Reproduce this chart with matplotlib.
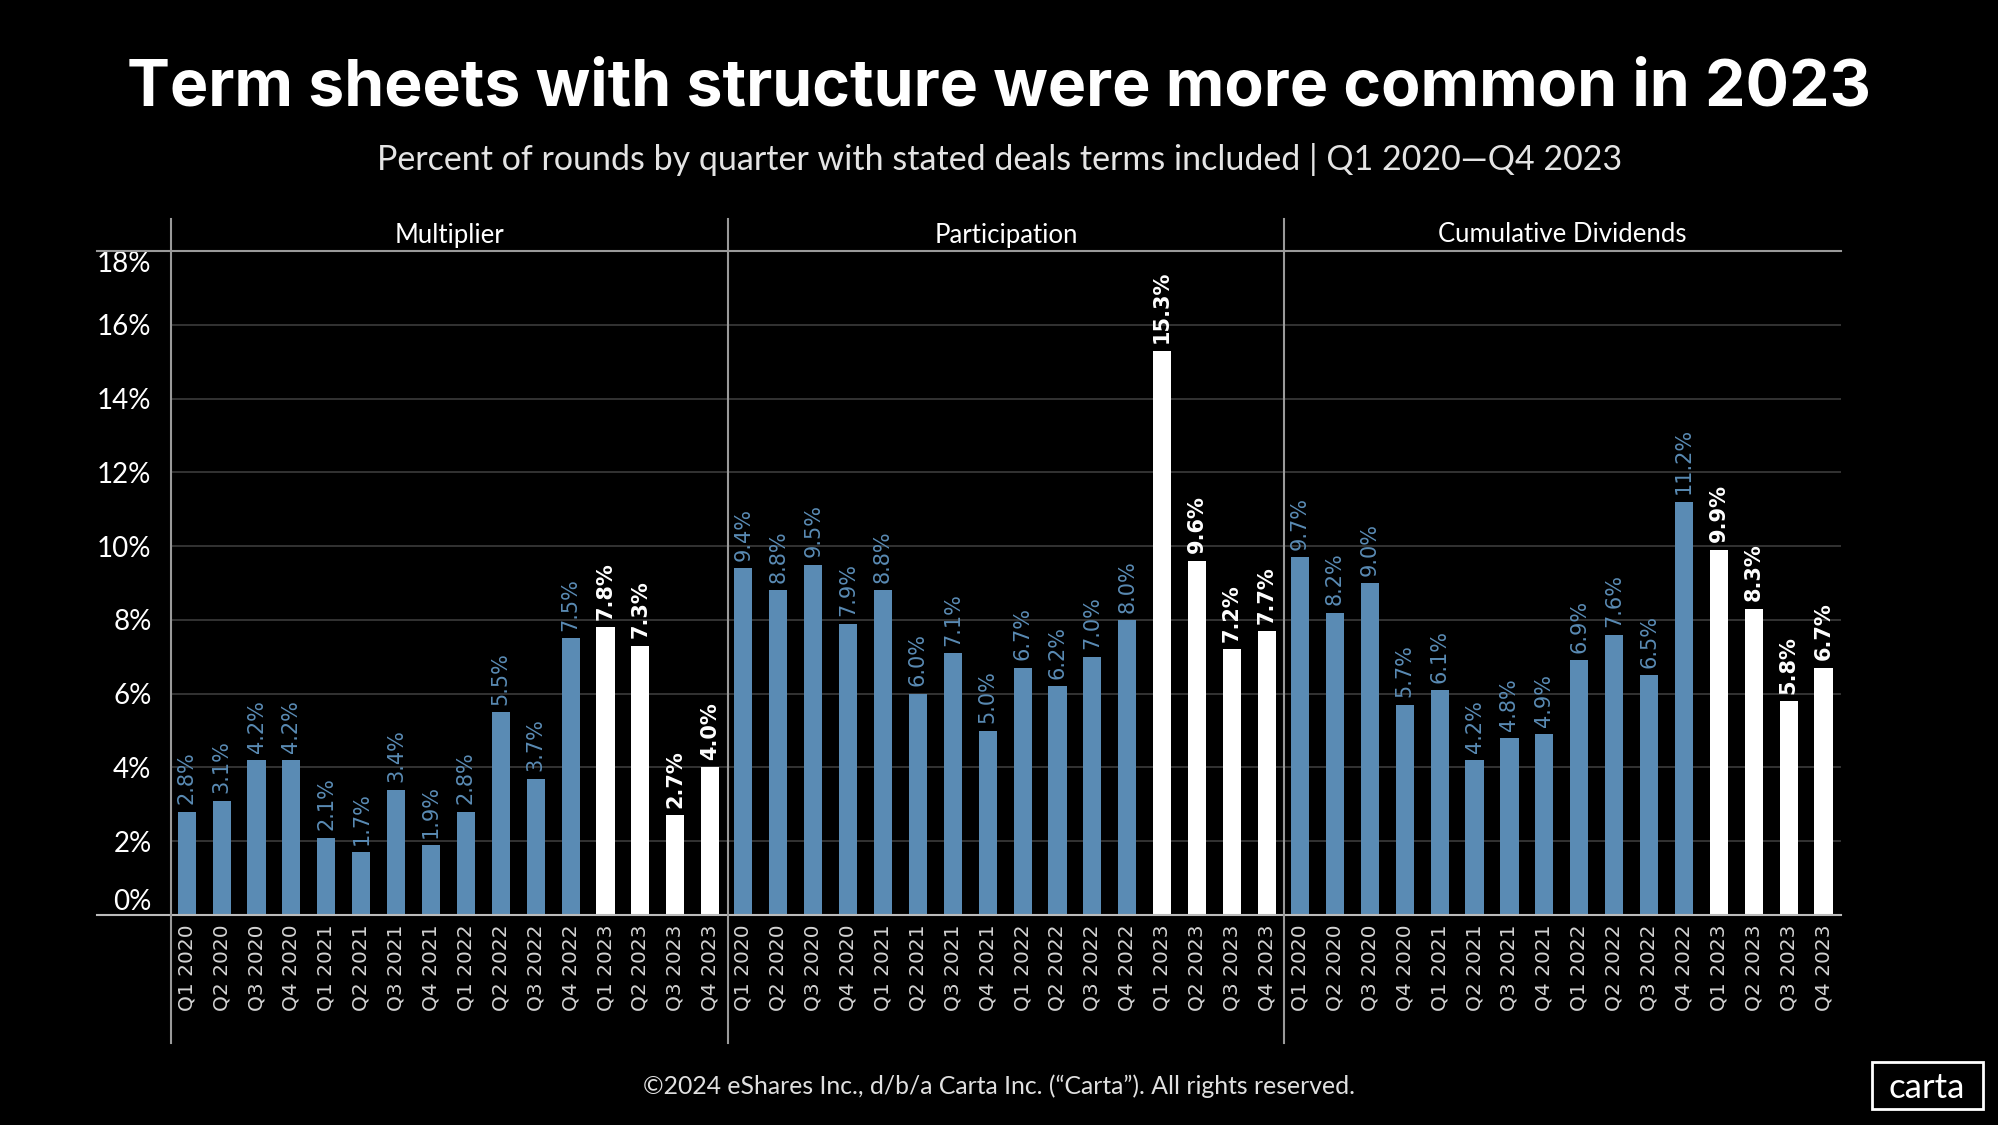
"""Term sheets with structure — Carta style bar chart, three panels."""

import matplotlib.pyplot as plt
from matplotlib.patches import Rectangle

# data
quarters = ["Q1 2020", "Q2 2020", "Q3 2020", "Q4 2020",
            "Q1 2021", "Q2 2021", "Q3 2021", "Q4 2021",
            "Q1 2022", "Q2 2022", "Q3 2022", "Q4 2022",
            "Q1 2023", "Q2 2023", "Q3 2023", "Q4 2023"]
panels = ["Multiplier", "Participation", "Cumulative Dividends"]
multiplier = [2.8, 3.1, 4.2, 4.2, 2.1, 1.7, 3.4, 1.9, 2.8, 5.5, 3.7, 7.5, 7.8, 7.3, 2.7, 4.0]
participation = [9.4, 8.8, 9.5, 7.9, 8.8, 6.0, 7.1, 5.0, 6.7, 6.2, 7.0, 8.0, 15.3, 9.6, 7.2, 7.7]
cum_dividends = [9.7, 8.2, 9.0, 5.7, 6.1, 4.2, 4.8, 4.9, 6.9, 7.6, 6.5, 11.2, 9.9, 8.3, 5.8, 6.7]
y_ticks = [0, 2, 4, 6, 8, 10, 12, 14, 16, 18]

BLUE = "#5a8bb4"
WHITE = "#ffffff"
GRID = "#3c3c3c"
LINE = "#9a9a9a"
FONT = "Lato"

W, H = 1999, 1125
fig = plt.figure(figsize=(W / 100, H / 100), dpi=100, facecolor="black")

# pixel layout
left_px, right_px = 171, 1841
top_px, base_px = 251, 915
pw = (right_px - left_px) / 3
ah = base_px - top_px

# title and subtitle
fig.text(0.5, 1 - 89 / H, "Term sheets with structure were more common in 2023",
         ha="center", va="center", color="white", fontsize=46.3,
         fontweight="bold", family="Inter")
fig.text(0.5, 1 - 159 / H,
         "Percent of rounds by quarter with stated deals terms included | Q1 2020\u2014Q4 2023",
         ha="center", va="center", color="#e4e4e4", fontsize=24.5,
         family=FONT)

for i, (name, vals) in enumerate(zip(panels, [multiplier, participation, cum_dividends])):
    ax = fig.add_axes([(left_px + i * pw) / W, 1 - base_px / H, pw / W, ah / H])
    ax.set_facecolor("black")
    x = list(range(len(quarters)))
    colors = [WHITE if q.endswith("2023") else BLUE for q in quarters]
    ax.bar(x, vals, width=0.52, color=colors, zorder=3)
    ax.set_xlim(-0.45, 15.5)
    ax.set_ylim(0, 18)

    # value labels
    for xi, v, c in zip(x, vals, colors):
        ax.text(xi, v + 0.2, f"{v:.1f}%", rotation=90, ha="center", va="bottom",
                color=c, fontsize=15, family="DejaVu Sans",
                fontweight="bold" if c == WHITE else "normal", zorder=4)

    for s in ax.spines.values():
        s.set_visible(False)
    ax.set_yticks(y_ticks)
    ax.yaxis.grid(True, color=GRID, lw=1.2, zorder=0)
    ax.set_xticks(x)
    ax.set_xticklabels(quarters, rotation=90, color="#d4d4d4", fontsize=14.5,
                       family="DejaVu Sans", va="top")
    ax.tick_params(axis="x", length=0, pad=7)
    ax.tick_params(axis="y", length=0, pad=14)

    if i == 0:
        ax.set_yticklabels([f"{t}%" for t in y_ticks], color="white",
                           fontsize=20, family=FONT)
        labels = ax.get_yticklabels()
        labels[0].set_va("bottom")
        labels[-1].set_va("top")
        ext = (left_px - 97) / pw
    else:
        ax.set_yticklabels([])
        ext = 0

    # header line, baseline and panel divider
    yt = ax.get_yaxis_transform()
    ax.plot([-ext, 1], [18, 18], transform=yt, color=LINE, lw=1.5, clip_on=False, zorder=5)
    ax.plot([-ext, 1], [0, 0], transform=yt, color="#bbbbbb", lw=1.5, clip_on=False, zorder=5)
    ax.plot([0, 0], [(base_px - 1043) / ah, (base_px - 219) / ah], transform=ax.transAxes,
            color=LINE, lw=1.5, clip_on=False, zorder=5)
    ax.text(0.5, (base_px - 235) / ah, name, transform=ax.transAxes, ha="center",
            va="center", color="white", fontsize=18.5, family=FONT)

# footer
fig.text(0.5, 1 - 1086 / H,
         "\u00a92024 eShares Inc., d/b/a Carta Inc. (\u201cCarta\u201d). All rights reserved.",
         ha="center", va="center", color="#e0e0e0", fontsize=17.8, family=FONT)

# logo
fig.patches.append(Rectangle((1872 / W, 1 - 1109 / H), 111 / W, 47 / H,
                             transform=fig.transFigure, fill=False,
                             edgecolor="white", lw=2))
fig.text(1927 / W, 1 - 1088 / H, "carta", ha="center", va="center",
         color="white", fontsize=25, family=FONT)

fig.savefig("out.png", dpi=100, facecolor="black")
